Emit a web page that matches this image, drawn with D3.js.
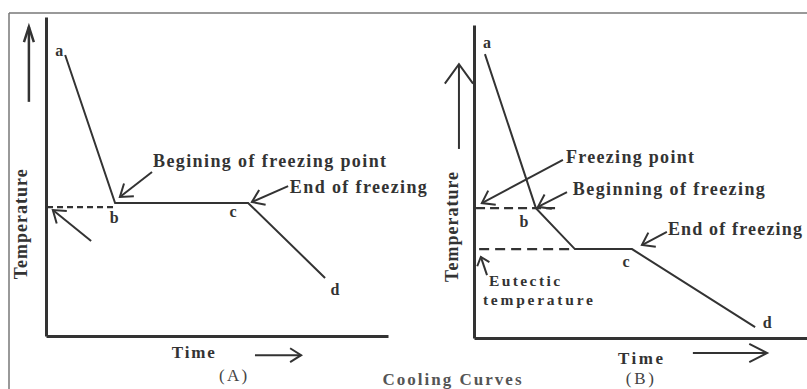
<!DOCTYPE html>
<html>
<head>
<meta charset="utf-8">
<script src="https://cdn.jsdelivr.net/npm/d3@7"></script>
<style>
  html, body { margin: 0; padding: 0; background: #ffffff; }
  svg { display: block; }
  text { font-family: "Liberation Serif", "Times New Roman", serif; fill: #333; }
</style>
</head>
<body>
<svg id="chart" width="807" height="389"></svg>
<script>
// ---- Cooling curve data (time and temperature in relative units, 0-100) ----
// (A) pure substance: a -> b (liquid cools), b -> c (freezing plateau), c -> d (solid cools)
const timeA = [5.6, 20.2, 59.1, 81.6];
const tempA = [88.1, 41.7, 41.7, 18.2];
const pointsA = ["a", "b", "c", "d"];

// (B) mixture: a -> b (liquid cools), b -> e (freezing begins), e -> c (eutectic plateau), c -> d
const timeB = [3.2, 18.1, 29.5, 46.2, 82.2];
const tempB = [90.7, 41.5, 28.4, 28.4, 3.5];
const pointsB = ["a", "b", "", "c", "d"];

// Reference levels (dashed)
const freezingTempA = 40.4;
const freezingSpanA = [0.3, 19.6];
const freezingTempB = 41.5;
const freezingSpanB = [0.6, 23.7];
const eutecticTempB = 28.4;
const eutecticSpanB = [1.5, 28.7];

const svg = d3.select("#chart");
const ink = "#333";

// Frame
svg.append("line").attr("x1", 9).attr("y1", 13).attr("x2", 807).attr("y2", 13)
  .attr("stroke", "#777").attr("stroke-width", 1.5);
svg.append("line").attr("x1", 9).attr("y1", 13).attr("x2", 9).attr("y2", 389)
  .attr("stroke", "#777").attr("stroke-width", 1.5);

// Scales for the two panels
const xA = d3.scaleLinear().domain([0, 100]).range([46, 388]);
const yA = d3.scaleLinear().domain([0, 100]).range([336, 17]);
const xB = d3.scaleLinear().domain([0, 100]).range([474, 816]);
const yB = d3.scaleLinear().domain([0, 100]).range([338, 25]);

// Open "V" arrow from (x1,y1) to tip (x2,y2)
function arrow(g, x1, y1, x2, y2, len, ang, width) {
  const th = Math.atan2(y1 - y2, x1 - x2);
  const a = ang * Math.PI / 180;
  g.append("line").attr("x1", x1).attr("y1", y1).attr("x2", x2).attr("y2", y2)
    .attr("stroke", ink).attr("stroke-width", width || 2);
  const p1 = [x2 + len * Math.cos(th + a), y2 + len * Math.sin(th + a)];
  const p2 = [x2 + len * Math.cos(th - a), y2 + len * Math.sin(th - a)];
  g.append("polyline").attr("points", [p1, [x2, y2], p2].map(p => p.join(",")).join(" "))
    .attr("fill", "none").attr("stroke", ink).attr("stroke-width", width || 2)
    .attr("stroke-linejoin", "miter");
}

function drawPanel(cfg) {
  const { x, y, time, temp, names, g } = cfg;

  // Axes (domain lines only)
  g.append("g").attr("transform", `translate(${x(0)},0)`)
    .call(d3.axisLeft(y).tickValues([]).tickSizeOuter(0))
    .call(s => s.select(".domain").attr("stroke", ink).attr("stroke-width", 3));
  g.append("g").attr("transform", `translate(0,${y(0)})`)
    .call(d3.axisBottom(x).tickValues([]).tickSizeOuter(0))
    .call(s => s.select(".domain").attr("stroke", ink).attr("stroke-width", 3));

  // Dashed reference levels
  cfg.levels.forEach(l => {
    g.append("line")
      .attr("x1", x(l.span[0])).attr("x2", x(l.span[1]))
      .attr("y1", y(l.temp)).attr("y2", y(l.temp))
      .attr("stroke", ink).attr("stroke-width", 2.2)
      .attr("stroke-dasharray", l.dash);
  });

  // Cooling curve
  const pts = time.map((t, i) => ({ t, T: temp[i], name: names[i] }));
  g.append("path").datum(pts)
    .attr("d", d3.line().x(d => x(d.t)).y(d => y(d.T)))
    .attr("fill", "none").attr("stroke", ink).attr("stroke-width", 2)
    .attr("stroke-linejoin", "miter");

  // Point letters
  g.selectAll("text.pt").data(pts.filter(d => d.name)).join("text")
    .attr("class", "pt")
    .attr("x", d => x(d.t) + cfg.labelOffsets[d.name][0])
    .attr("y", d => y(d.T) + cfg.labelOffsets[d.name][1])
    .attr("text-anchor", "middle")
    .attr("font-size", 16).attr("font-weight", "bold")
    .text(d => d.name);

  // Annotation texts
  cfg.notes.forEach(n => {
    const t = g.append("text")
      .attr("x", x(n.t)).attr("y", y(n.T))
      .attr("font-size", n.size || 18).attr("font-weight", "bold")
      .text(n.text);
    if (n.len) t.attr("textLength", n.len).attr("lengthAdjust", "spacing");
  });

  // Pointer arrows
  cfg.pointers.forEach(p => {
    arrow(g, x(p.from[0]), y(p.from[1]), x(p.to[0]), y(p.to[1]), p.head || 14, p.ang || 35, p.w);
  });

  // Axis titles
  g.append("text")
    .attr("transform", `translate(${x(cfg.tempLabel[0])},${y(cfg.tempLabel[1])}) rotate(-90)`)
    .attr("text-anchor", "middle").attr("font-size", 18).attr("font-weight", "bold")
    .attr("textLength", 110).attr("lengthAdjust", "spacing")
    .text("Temperature");
  g.append("text")
    .attr("x", x(cfg.timeLabel[0])).attr("y", y(cfg.timeLabel[1]))
    .attr("font-size", 17).attr("font-weight", "bold")
    .attr("textLength", cfg.timeLabel[2]).attr("lengthAdjust", "spacing")
    .text("Time");
  g.append("text")
    .attr("x", x(cfg.caption[0])).attr("y", y(cfg.caption[1]))
    .attr("text-anchor", "middle").attr("font-size", 17)
    .attr("textLength", 28).attr("lengthAdjust", "spacing")
    .style("fill", "#444")
    .text(cfg.caption[2]);
}

drawPanel({
  g: svg.append("g"), x: xA, y: yA,
  time: timeA, temp: tempA, names: pointsA,
  levels: [{ temp: freezingTempA, span: freezingSpanA, dash: "6,4" }],
  labelOffsets: { a: [-6, 1], b: [-1, 20], c: [-15, 14], d: [10, 17] },
  notes: [
    { text: "Begining of freezing point", t: 31.3, T: 53.0, len: 233 },
    { text: "End of freezing", t: 71.3, T: 44.8, len: 137 }
  ],
  pointers: [
    { from: [31.0, 51.4], to: [21.6, 43.6] },
    { from: [70.8, 47.0], to: [60.2, 42.0] },
    { from: [13.2, 29.8], to: [2.0, 39.5] },
    { from: [-5.0, 73.4], to: [-5.0, 96.9], head: 16, ang: 18, w: 2.5 },
    { from: [61.1, -6.0], to: [74.6, -6.0], head: 13, ang: 32 }
  ],
  tempLabel: [-5.5, 35.0],
  timeLabel: [36.8, -7.0, 43],
  caption: [54.7, -14.0, "(A)"]
});

drawPanel({
  g: svg.append("g"), x: xB, y: yB,
  time: timeB, temp: tempB, names: pointsB,
  levels: [
    { temp: freezingTempB, span: freezingSpanB, dash: "9,5" },
    { temp: eutecticTempB, span: eutecticSpanB, dash: "10,6" }
  ],
  labelOffsets: { a: [2, -6], b: [-12, 19], c: [-6, 18], d: [12, 1] },
  notes: [
    { text: "Freezing point", t: 26.9, T: 55.9, len: 128 },
    { text: "Beginning of freezing", t: 28.9, T: 45.7, len: 192 },
    { text: "End of freezing", t: 56.7, T: 32.9, len: 134 },
    { text: "Eutectic", t: 4.4, T: 16.6, len: 71, size: 15.5 },
    { text: "temperature", t: 2.6, T: 10.6, len: 110, size: 15.5 }
  ],
  pointers: [
    { from: [26.0, 56.9], to: [2.3, 43.1] },
    { from: [27.2, 46.6], to: [18.7, 41.9] },
    { from: [56.4, 33.9], to: [49.1, 29.7] },
    { from: [3.8, 20.1], to: [2.0, 25.9], head: 10, ang: 40 },
    { from: [-4.4, 60.4], to: [-4.4, 87.5], head: 24, ang: 36 },
    { from: [64.0, -4.8], to: [85.7, -4.8], head: 20, ang: 27 }
  ],
  tempLabel: [-4.8, 35.5],
  timeLabel: [42.1, -8.3, 45],
  caption: [48.5, -14.8, "(B)"]
});

// Overall title
svg.append("text")
  .attr("x", 452).attr("y", 385)
  .attr("text-anchor", "middle").attr("font-size", 17).attr("font-weight", "bold")
  .attr("textLength", 139).attr("lengthAdjust", "spacing")
  .style("fill", "#555")
  .text("Cooling Curves");
</script>
</body>
</html>
